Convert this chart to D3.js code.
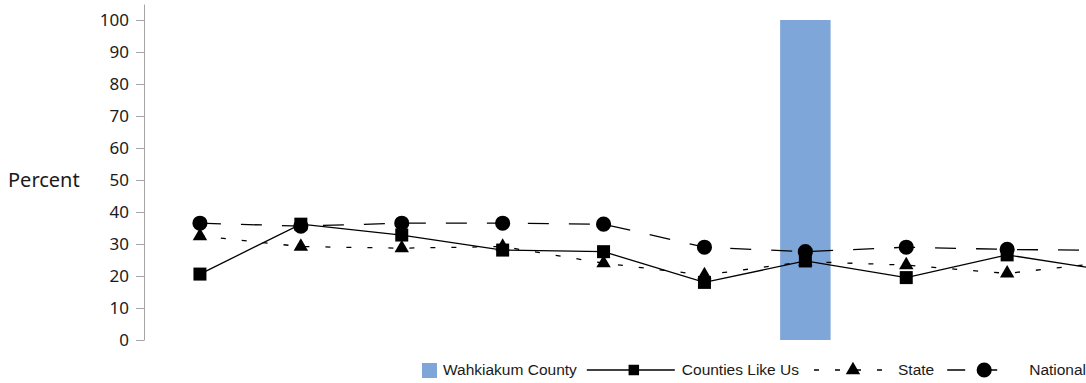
<!DOCTYPE html>
<html>
<head>
<meta charset="utf-8">
<script src="https://cdn.jsdelivr.net/npm/d3@7"></script>
<style>
  body { margin: 0; background: #fff; }
  .axis text { font-family: "Noto Sans", sans-serif; font-size: 17px; fill: #1a1a1a; }
  .axis path, .axis line { stroke: #a6a6a6; }
  .ylabel { font-family: "Noto Sans", sans-serif; font-size: 20px; fill: #1a1a1a; }
  .legend text { font-family: "Liberation Sans", Arial, sans-serif; font-size: 15.5px; fill: #1a1a1a; }
</style>
</head>
<body>
<div id="chart"></div>
<script>
// categories (no labels shown on the x axis of the original)
const categories = ["1", "2", "3", "4", "5", "6", "7", "8", "9", "10"];

// Wahkiakum County only has a value for one category
const countyValues   = [null, null, null, null, null, null, 100, null, null, null];
const countiesValues = [20.6, 36.2, 32.8, 28.1, 27.6, 18.0, 24.7, 19.5, 26.6, 21.7];
const stateValues    = [32.5, 29.2, 28.7, 29.2, 24.0, 20.3, 24.5, 23.4, 20.8, 24.3];
const nationalValues = [36.5, 35.6, 36.5, 36.5, 36.2, 29.0, 27.6, 29.0, 28.3, 28.0];

const yTicks = [0, 10, 20, 30, 40, 50, 60, 70, 80, 90, 100];
const seriesNames = ["Wahkiakum County", "Counties Like Us", "State", "National"];

const width = 1086, height = 383;
const barColor = "#7ea6d8";

const svg = d3.select("#chart").append("svg")
    .attr("width", width).attr("height", height);

// x: one band per category, points sit in the middle of the band
const x = d3.scaleBand().domain(categories)
    .range([149.5, 149.5 + 100.9 * categories.length])
    .paddingInner(0.5).paddingOuter(0.25);
const cx = d => x(d) + x.bandwidth() / 2;

const y = d3.scaleLinear().domain([0, 105]).range([340, 4]);

// y axis
svg.append("g").attr("class", "axis")
    .attr("transform", "translate(144,0)")
    .call(d3.axisLeft(y).tickValues(yTicks).tickSize(8).tickSizeOuter(0).tickPadding(7));

svg.append("text").attr("class", "ylabel")
    .attr("x", 8).attr("y", y(50))
    .attr("dy", "0.35em")
    .text("Percent");

// county bars
svg.append("g").selectAll("rect")
    .data(categories.map((c, i) => [c, countyValues[i]]).filter(d => d[1] != null))
    .enter().append("rect")
    .attr("x", d => x(d[0]))
    .attr("y", d => y(d[1]))
    .attr("width", x.bandwidth())
    .attr("height", d => y(0) - y(d[1]))
    .attr("fill", barColor);

// line series
const lineSeries = [
    {name: seriesNames[3], values: nationalValues, dash: "21,20", symbol: d3.symbolCircle, size: 180},
    {name: seriesNames[2], values: stateValues, dash: "5,16", symbol: d3.symbolTriangle, size: 90},
    {name: seriesNames[1], values: countiesValues, dash: null, symbol: d3.symbolSquare, size: 169}
];

const line = d3.line().x(d => cx(d[0])).y(d => y(d[1]));

lineSeries.forEach(s => {
    const pts = categories.map((c, i) => [c, s.values[i]]);
    svg.append("path")
        .datum(pts)
        .attr("d", line)
        .attr("fill", "none")
        .attr("stroke", "#000")
        .attr("stroke-width", 1.3)
        .attr("stroke-dasharray", s.dash);
    svg.append("g").selectAll("path")
        .data(pts).enter().append("path")
        .attr("transform", d => "translate(" + cx(d[0]) + "," + y(d[1]) + ")")
        .attr("d", d3.symbol().type(s.symbol).size(s.size))
        .attr("fill", "#000");
});

// legend
const legend = svg.append("g").attr("class", "legend")
    .attr("transform", "translate(422,370)");

const legItems = [
    {name: seriesNames[0], kind: "rect", w: 15, gap: 6, after: 10},
    {name: seriesNames[1], kind: "line", w: 88, gap: 7, after: 15, dash: null, symbol: d3.symbolSquare, size: 110, off: 3},
    {name: seriesNames[2], kind: "line", w: 72, gap: 12, after: 13, dash: "5,16", symbol: d3.symbolTriangle, size: 90, off: 3},
    {name: seriesNames[3], kind: "line", w: 62, gap: 20, after: 0, dash: "18,14", symbol: d3.symbolCircle, size: 180, off: 6}
];

let lx = 0;
legItems.forEach(it => {
    const g = legend.append("g").attr("transform", "translate(" + lx + ",0)");
    if (it.kind === "rect") {
        g.append("rect").attr("x", 0).attr("y", -7).attr("width", 15).attr("height", 15)
            .attr("fill", barColor);
    } else {
        g.append("line").attr("x1", 0).attr("x2", it.w).attr("y1", 0).attr("y2", 0)
            .attr("stroke", "#000").attr("stroke-width", 1.3)
            .attr("stroke-dasharray", it.dash);
        g.append("path")
            .attr("transform", "translate(" + (it.w / 2 + it.off) + ",0)")
            .attr("d", d3.symbol().type(it.symbol).size(it.size))
            .attr("fill", "#000");
    }
    const t = g.append("text").attr("x", it.w + it.gap).attr("dy", "0.35em").text(it.name);
    lx += it.w + it.gap + t.node().getComputedTextLength() + it.after;
});
</script>
</body>
</html>
